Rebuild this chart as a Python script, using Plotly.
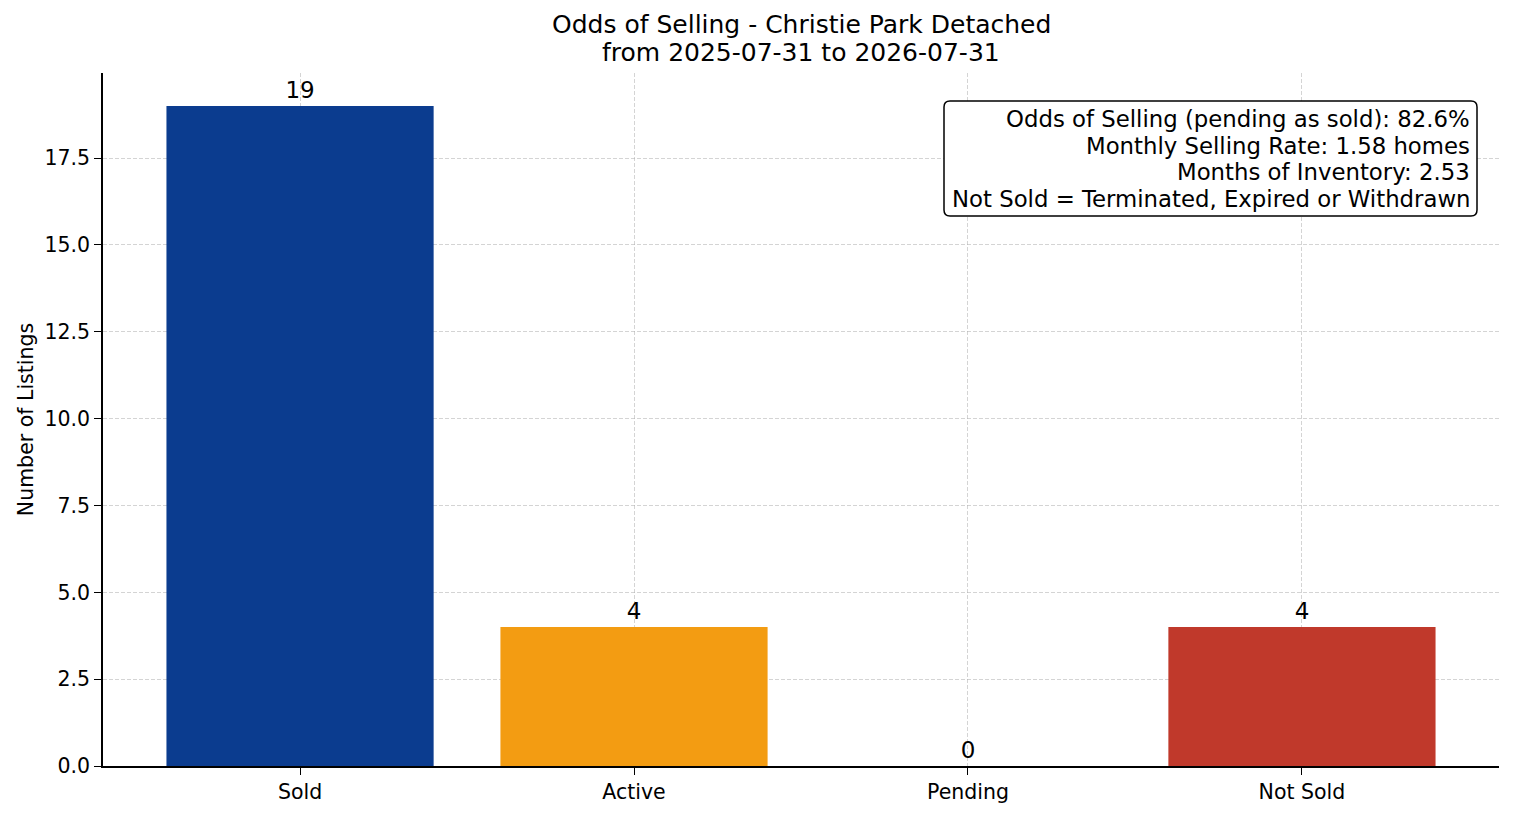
import plotly.graph_objects as go

categories = ["Sold", "Active", "Pending", "Not Sold"]
counts = [19, 4, 0, 4]
bar_colors = ["#0b3c8f", "#f39c12", "#f39c12", "#c0392b"]

title_lines = ["Odds of Selling - Christie Park Detached", "from 2025-07-31 to 2026-07-31"]
stats_lines = [
    "Odds of Selling (pending as sold): 82.6%",
    "Monthly Selling Rate: 1.58 homes",
    "Months of Inventory: 2.53",
    "Not Sold = Terminated, Expired or Withdrawn",
]
yticks = [0, 2.5, 5, 7.5, 10, 12.5, 15, 17.5]

font = "DejaVu Sans, sans-serif"

# plot area in page pixels (page has an 8px body margin)
PX0, PX1, PY0, PY1 = 103, 1499, 73, 766


def px(x):
    return (x - PX0) / (PX1 - PX0)


def py(y):
    return (PY1 - y) / (PY1 - PY0)


fig = go.Figure()
fig.add_trace(go.Bar(
    x=list(range(len(categories))),
    y=counts,
    width=0.8,
    marker=dict(color=bar_colors, line=dict(width=0)),
    text=[str(c) for c in counts],
    textposition="outside",
    textfont=dict(size=23, color="black", family=font),
    cliponaxis=False,
    showlegend=False,
))

# title, two lines
for line, yc in zip(title_lines, [25, 53]):
    fig.add_annotation(text=line, xref="paper", yref="paper", x=0.5, y=py(yc),
                       xanchor="center", yanchor="middle", showarrow=False,
                       font=dict(size=25, family=font, color="black"))

# stats box with rounded corners
bx0, bx1, by0, by1, r = 944, 1477, 101, 216, 6
rx, ry = r / (PX1 - PX0), r / (PY1 - PY0)
L, R, T, B = px(bx0), px(bx1), py(by0), py(by1)
path = (f"M {L+rx},{T} L {R-rx},{T} Q {R},{T} {R},{T-ry} "
        f"L {R},{B+ry} Q {R},{B} {R-rx},{B} L {L+rx},{B} Q {L},{B} {L},{B+ry} "
        f"L {L},{T-ry} Q {L},{T} {L+rx},{T} Z")
fig.add_shape(type="path", path=path, xref="paper", yref="paper",
              line=dict(color="black", width=1.5), fillcolor="white", layer="above")
for line, yc in zip(stats_lines, [119, 146, 172, 199]):
    fig.add_annotation(text=line, xref="paper", yref="paper", x=px(1472), y=py(yc),
                       xanchor="right", yanchor="middle", showarrow=False,
                       font=dict(size=22.8, family=font, color="black"))

fig.update_layout(
    width=1506, height=808,
    margin=dict(l=95, r=15, t=65, b=50),
    paper_bgcolor="white",
    plot_bgcolor="white",
    font=dict(family=font, color="black", size=20.5),
    bargap=0.2,
)

grid = dict(showgrid=True, gridcolor="rgba(170,170,170,0.5)", gridwidth=1, griddash="4px,2px")

fig.update_xaxes(
    tickmode="array",
    tickvals=list(range(len(categories))),
    ticktext=categories,
    range=[-0.59, 3.59],
    showline=True, linecolor="black", linewidth=1.6,
    ticks="outside", ticklen=7, tickwidth=1.3, tickcolor="black",
    layer="above traces",
    tickfont=dict(size=20.5),
    **grid,
)
fig.update_yaxes(
    range=[0, 19.95],
    tickmode="array",
    tickvals=yticks,
    ticktext=[f"{v:.1f}" for v in yticks],
    showline=True, linecolor="black", linewidth=1.6,
    ticks="outside", ticklen=7, tickwidth=1.3, tickcolor="black",
    zeroline=False,
    layer="above traces",
    title=dict(text="Number of Listings", font=dict(size=20.5), standoff=5),
    tickfont=dict(size=20.5),
    **grid,
)

fig.write_html("out.html")
